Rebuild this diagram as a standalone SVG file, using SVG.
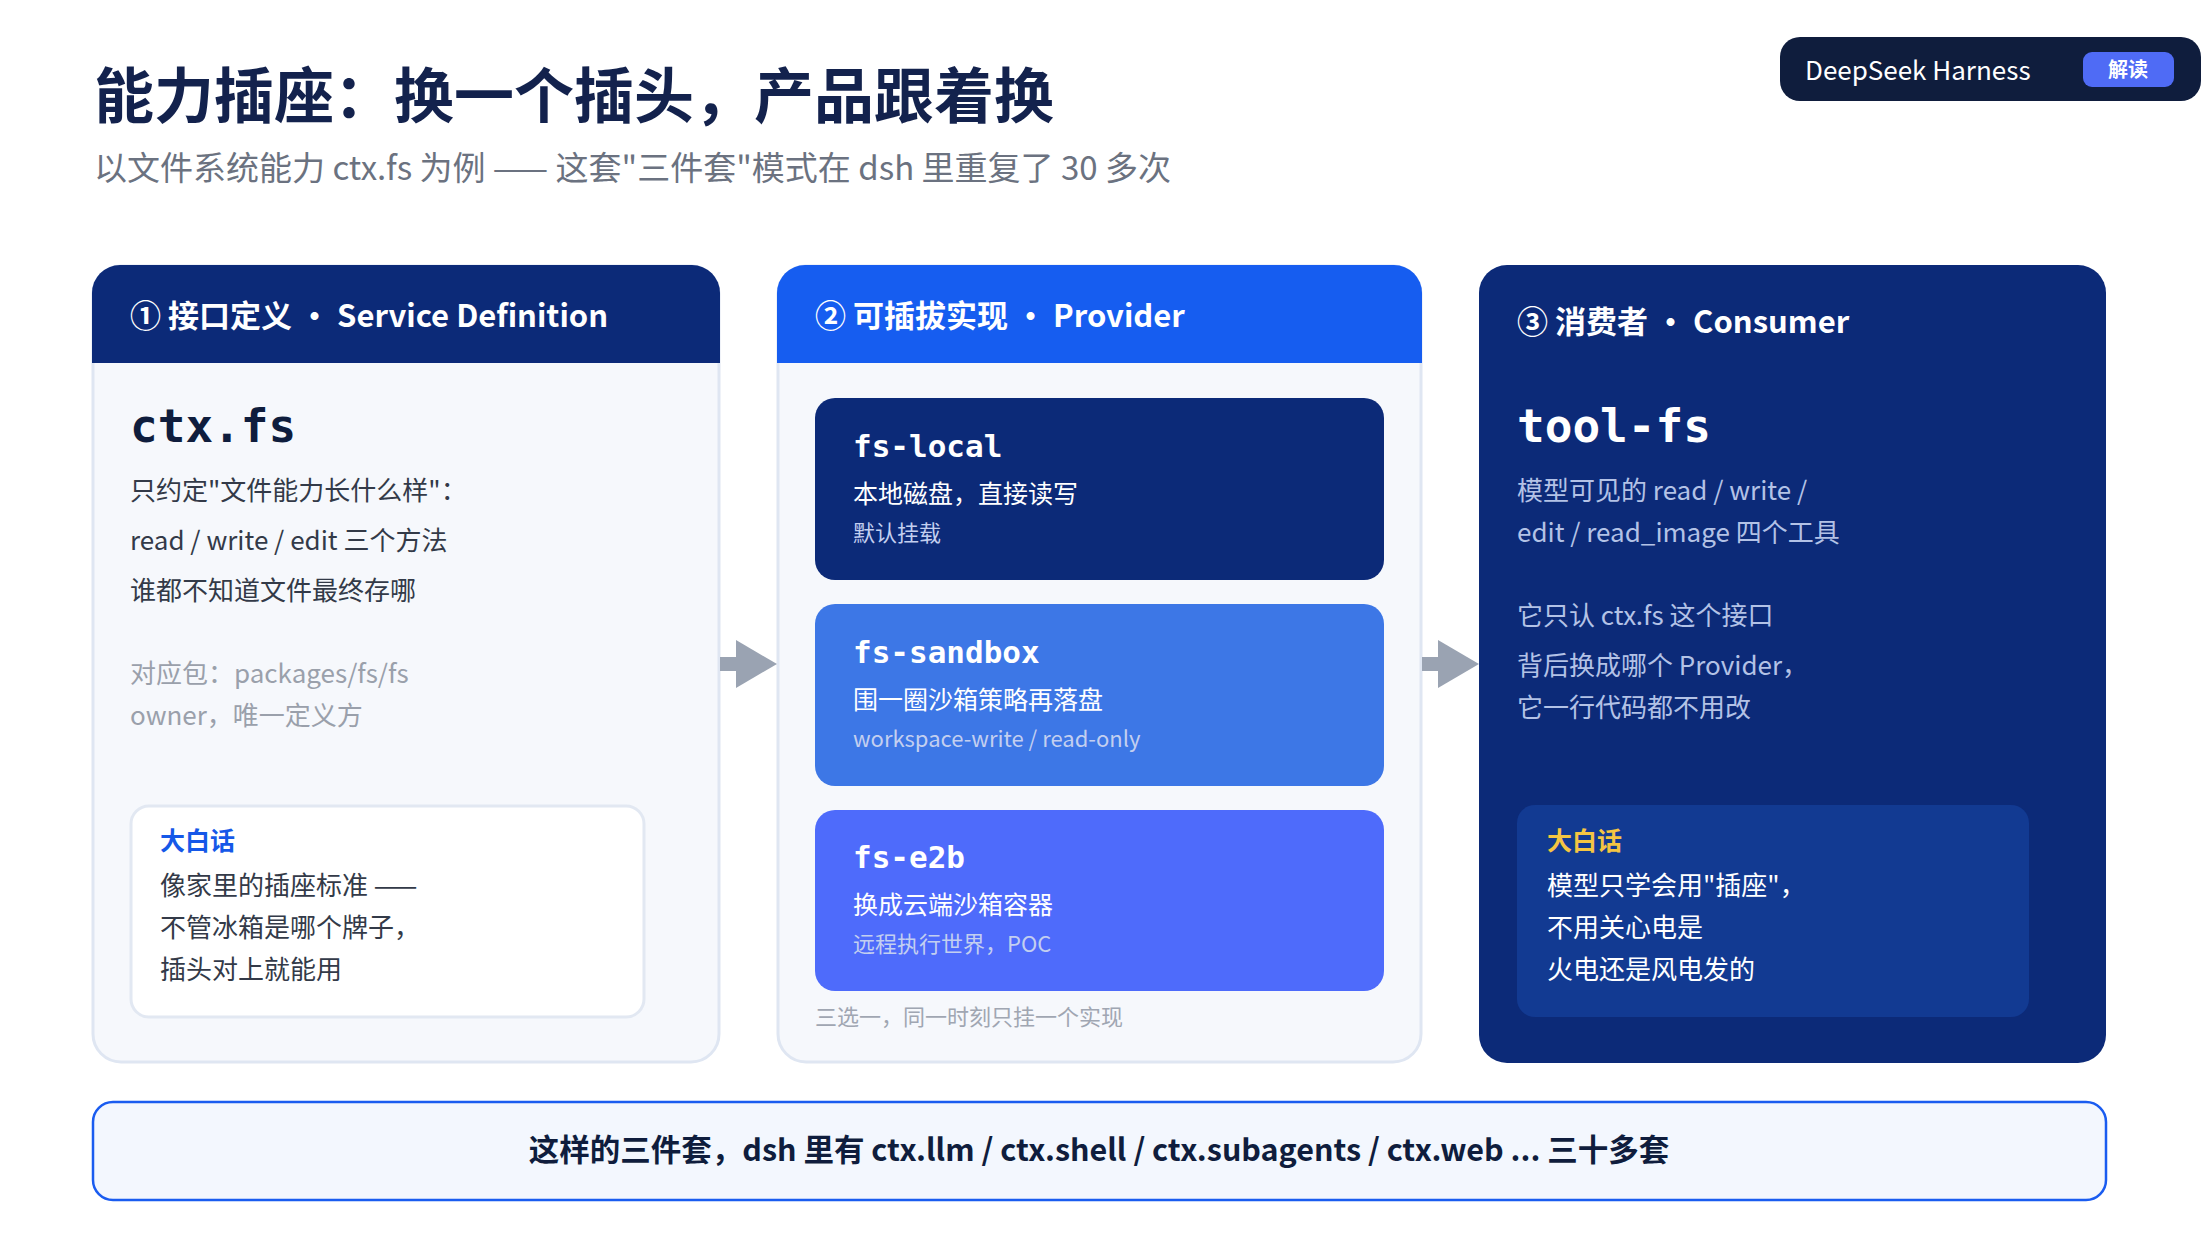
<svg xmlns="http://www.w3.org/2000/svg" width="2212" height="1238" viewBox="0 0 2212 1238">
<style>
text{font-family:"Noto Sans CJK SC","Noto Sans",sans-serif}
.mono{font-family:"DejaVu Sans Mono","Liberation Mono",monospace;font-weight:bold}
.hd{font-size:31px;font-weight:bold;fill:#fff}
.body{font-size:26px;fill:#333a48}
.grey{font-size:26px;fill:#9aa0ab}
.pn{font-size:31px;fill:#fff}
.pd{font-size:25px;fill:#fff}
.ps{font-size:22px;fill:#c3cff0}
.lt{font-size:26px;fill:#b3c2e6}
</style>
<rect width="2212" height="1238" fill="#fff"/>
<text x="94" y="118" font-size="60" font-weight="bold" fill="#13224d">能力插座：换一个插头，产品跟着换</text>
<text x="94" y="180" font-size="33" fill="#6b7280">以文件系统能力 ctx.fs 为例 —— 这套"三件套"模式在 dsh 里重复了 30 多次</text>
<g id="badge">
<rect x="1780" y="37" width="421" height="64" rx="20" fill="#0f1d3d"/>
<text x="1805" y="80" font-size="26" fill="#fff">DeepSeek Harness</text>
<rect x="2083" y="52" width="91" height="35" rx="9" fill="#4f6bf5"/>
<text x="2128" y="77" font-size="20" font-weight="bold" fill="#fff" text-anchor="middle">解读</text>
</g>
<g id="card1">
<rect x="93" y="266" width="626" height="796" rx="28" fill="#f6f8fc" stroke="#dfe6f2" stroke-width="3"/>
<path d="M92 363 V293 a28 28 0 0 1 28 -28 H692 a28 28 0 0 1 28 28 V363 Z" fill="#0c2a78"/>
<text x="130" y="327" class="hd">① 接口定义 · Service Definition</text>
<text x="130" y="442" class="mono" font-size="46" fill="#0f1d3d">ctx.fs</text>
<text x="130" y="500" class="body">只约定"文件能力长什么样"：</text>
<text x="130" y="550" class="body">read / write / edit 三个方法</text>
<text x="130" y="600" class="body">谁都不知道文件最终存哪</text>
<text x="130" y="683" class="grey">对应包：packages/fs/fs</text>
<text x="130" y="725" class="grey">owner，唯一定义方</text>
<rect x="131" y="806" width="513" height="211" rx="18" fill="#fff" stroke="#e2e8f2" stroke-width="3"/>
<text x="160" y="850" font-size="25" font-weight="bold" fill="#1558e8">大白话</text>
<text x="160" y="895" class="body">像家里的插座标准 ——</text>
<text x="160" y="937" class="body">不管冰箱是哪个牌子，</text>
<text x="160" y="979" class="body">插头对上就能用</text>
</g>
<g id="card2">
<rect x="778" y="266" width="643" height="796" rx="28" fill="#f6f8fc" stroke="#dfe6f2" stroke-width="3"/>
<path d="M777 363 V293 a28 28 0 0 1 28 -28 H1394 a28 28 0 0 1 28 28 V363 Z" fill="#165df0"/>
<text x="815" y="327" class="hd">② 可插拔实现 · Provider</text>
<g id="fs-local">
<rect x="815" y="398" width="569" height="182" rx="20" fill="#0c2a78"/>
<text x="853" y="457" class="mono pn">fs-local</text>
<text x="853" y="503" class="pd">本地磁盘，直接读写</text>
<text x="853" y="541" class="ps">默认挂载</text>
</g>
<g id="fs-sandbox">
<rect x="815" y="604" width="569" height="182" rx="20" fill="#3d77e6"/>
<text x="853" y="663" class="mono pn">fs-sandbox</text>
<text x="853" y="709" class="pd">围一圈沙箱策略再落盘</text>
<text x="853" y="747" class="ps" fill="#dbe5fb">workspace-write / read-only</text>
</g>
<g id="fs-e2b">
<rect x="815" y="810" width="569" height="181" rx="20" fill="#4e6bfb"/>
<text x="853" y="868" class="mono pn">fs-e2b</text>
<text x="853" y="914" class="pd">换成云端沙箱容器</text>
<text x="853" y="952" class="ps" fill="#dbe2fd">远程执行世界，POC</text>
</g>
<text x="815" y="1025" font-size="22" fill="#a0a6b2">三选一，同一时刻只挂一个实现</text>
</g>
<g id="card3">
<rect x="1479" y="265" width="627" height="798" rx="28" fill="#0c2a78"/>
<text x="1517" y="333" class="hd">③ 消费者 · Consumer</text>
<text x="1517" y="442" class="mono" font-size="46" fill="#fff">tool-fs</text>
<text x="1517" y="500" class="lt">模型可见的 read / write /</text>
<text x="1517" y="542" class="lt">edit / read_image 四个工具</text>
<text x="1517" y="625" class="lt">它只认 ctx.fs 这个接口</text>
<text x="1517" y="675" class="lt">背后换成哪个 Provider，</text>
<text x="1517" y="717" class="lt">它一行代码都不用改</text>
<rect x="1517" y="805" width="512" height="212" rx="18" fill="#123a92"/>
<text x="1547" y="850" font-size="25" font-weight="bold" fill="#f5c542">大白话</text>
<text x="1547" y="895" font-size="26" fill="#fff">模型只学会用"插座"，</text>
<text x="1547" y="937" font-size="26" fill="#fff">不用关心电是</text>
<text x="1547" y="979" font-size="26" fill="#fff">火电还是风电发的</text>
</g>
<g id="connectors" fill="#9aa3b2">
<rect x="720" y="657" width="20" height="14"/>
<polygon points="736,640 777,664 736,688"/>
<rect x="1422" y="657" width="20" height="14"/>
<polygon points="1438,640 1479,664 1438,688"/>
</g>
<g id="footer">
<rect x="93" y="1102" width="2013" height="98" rx="20" fill="#f3f7fe" stroke="#1a5cf0" stroke-width="2.5"/>
<text x="1099" y="1161" font-size="30.5" font-weight="bold" fill="#0f1d3d" text-anchor="middle">这样的三件套，dsh 里有 ctx.llm / ctx.shell / ctx.subagents / ctx.web ... 三十多套</text>
</g>
</svg>
